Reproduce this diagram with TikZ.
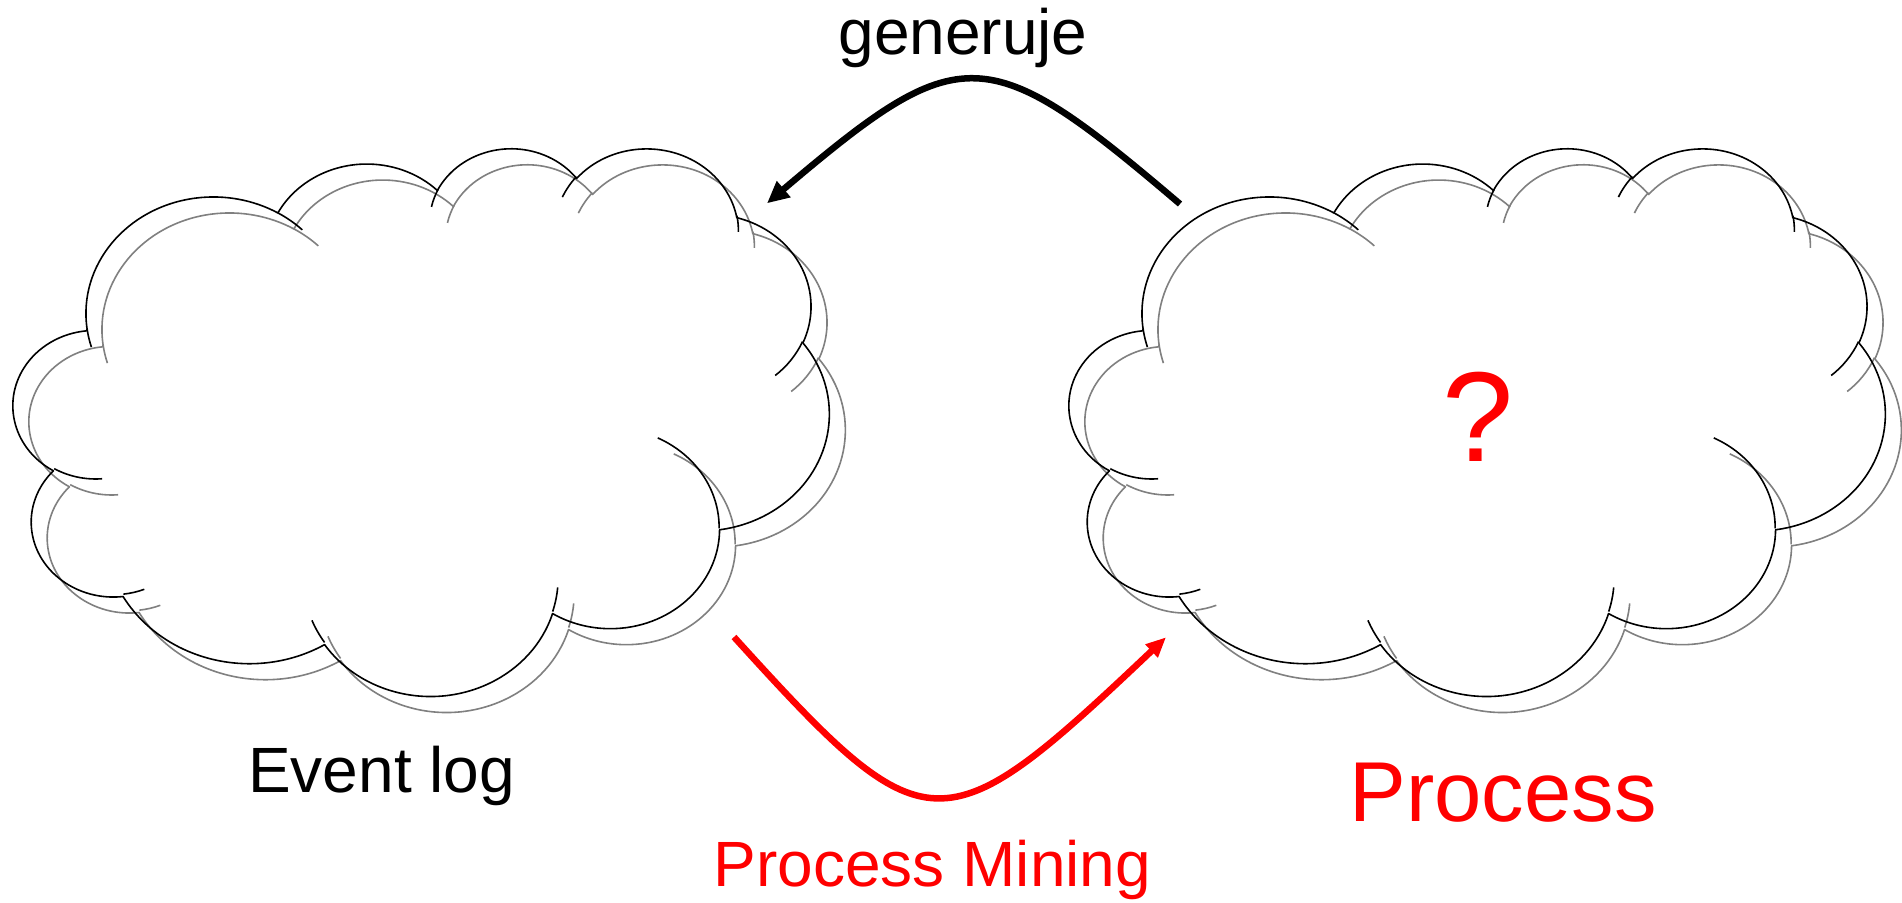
\documentclass[tikz,border=0pt]{standalone}
\usepackage{fontspec}
\setmainfont{Liberation Sans}
\usetikzlibrary{arrows.meta}

\definecolor{shadowgray}{RGB}{128,128,128}

% One lobe of the cloud: an elliptical arc given by its radii and by the
% visual start angle and sweep; stored as a TikZ arc with parametric angles.
\newcommand\defcloudarc[5]{%
  \pgfmathsetmacro\cArcS{atan2((#2)*sin(#4),(#3)*cos(#4))}%
  \pgfmathsetmacro\cArcE{atan2((#2)*sin((#4)+(#5)),(#3)*cos((#4)+(#5)))}%
  \pgfmathsetmacro\cArcD{mod(\cArcE-\cArcS+720,360)}%
  \expandafter\xdef\csname #1\endcsname{arc[start angle=\cArcS, delta angle=\cArcD, x radius=#2pt, y radius=#3pt]}%
}

% outline lobes
\defcloudarc{clA}{6.753}{9.190}{-190.4875}{123.7805}
\defcloudarc{clB}{5.333}{7.267}{-144.1024}{89.9452}
\defcloudarc{clC}{4.365}{5.945}{-145.8079}{99.7230}
\defcloudarc{clD}{4.857}{6.595}{-130.9861}{117.2417}
\defcloudarc{clE}{5.333}{7.273}{-78.7089}{109.0269}
\defcloudarc{clF}{6.775}{9.220}{-46.2673}{130.2690}
\defcloudarc{clG}{5.785}{7.867}{0.6250}{114.0333}
\defcloudarc{clH}{6.752}{9.215}{22.4516}{115.1726}
\defcloudarc{clI}{7.720}{10.543}{66.2426}{75.7110}
\defcloudarc{clJ}{4.360}{5.918}{-274.9421}{146.7356}
\defcloudarc{clK}{4.345}{5.945}{-246.8285}{152.5189}
% inner strokes between lobes
\defcloudarc{inA}{4.345}{5.945}{86.7420}{26.4295}
\defcloudarc{inB}{4.360}{5.918}{73.6105}{11.4475}
\defcloudarc{inC}{6.752}{9.215}{137.6242}{14.0811}
\defcloudarc{inD}{6.752}{9.215}{6.4533}{15.9984}
\defcloudarc{inE}{5.785}{7.867}{-70.2924}{70.9174}
\defcloudarc{inF}{5.333}{7.273}{30.3180}{27.7515}
\defcloudarc{inG}{4.857}{6.595}{-13.7443}{14.8514}
\defcloudarc{inH}{4.857}{6.595}{-149.1815}{18.1954}
\defcloudarc{inI}{4.365}{5.945}{-163.4943}{17.6864}
\defcloudarc{inJ}{6.753}{9.190}{-66.7070}{12.3194}
\defcloudarc{inK}{6.753}{9.190}{157.6544}{11.8582}

\newcommand\cloudW{815.5}
\newcommand\cloudH{547.5}

% cloud in a 43.2 x 43.2 frame, placed with its top-left corner at (#1,#2)
\newcommand\drawcloud[3]{%
  \begin{scope}[shift={(#1,#2)}, x=1pt, y=1pt, xscale=\cloudW/43.2, yscale=-\cloudH/43.2]
    \draw[cloudline, draw=#3] (3.9,14.37) \clA\clB\clC\clD\clE\clF\clG\clH\clI\clJ\clK -- cycle;
    \draw[cloudline, draw=#3]
      (4.693,26.177) \inA (6.928,34.899) \inB (16.478,39.09) \inC
      (28.827,34.751) \inD (34.129,22.954) \inE (41.798,15.354) \inF
      (38.324,5.426) \inG (29.078,3.952) \inH (22.141,4.72) \inI
      (14.0,5.192) \inJ (4.127,15.789) \inK;
  \end{scope}}

\begin{document}
\begin{tikzpicture}[x=1pt, y=-1pt,
  cloudline/.style={line width=1.6pt, line join=round},
  genarrow/.style={line width=6.5pt, -{Triangle[length=22pt,width=20pt]}},
  minearrow/.style={red, line width=6.5pt, -{Triangle[length=20pt,width=17pt]}},
  lbl/.style={inner sep=0pt, anchor=base}]
  \useasboundingbox (0,0) rectangle (1902,902);
  \fill[white] (0,0) rectangle (1902,902);

  % shadows first, outlines on top
  \drawcloud{29.5}{163}{shadowgray}
  \drawcloud{13.5}{147}{black}
  \drawcloud{1085.5}{163}{shadowgray}
  \drawcloud{1069.5}{147}{black}

  % connectors between the two clouds
  \coordinate (genFrom) at (1180,204);
  \coordinate (genTo) at (767,203.3);
  \coordinate (mineFrom) at (734,637);
  \coordinate (mineTo) at (1166,637.3);
  \draw[genarrow] (genFrom) .. controls (986,38.7) and (961,38.7) .. (genTo);
  \draw[minearrow] (mineFrom) .. controls (927,850) and (941.5,850) .. (mineTo);

  % labels
  \node[lbl, font=\fontsize{64}{64}\selectfont] (genLabel) at (963,54.5) {generuje};
  \node[lbl, font=\fontsize{64}{64}\selectfont] (logLabel) at (381.7,792.7) {Event log};
  \node[lbl, red, font=\fontsize{64}{64}\selectfont] (mineLabel) at (932.5,886) {Process Mining};
  \node[lbl, red, font=\fontsize{85}{85}\selectfont] (procLabel) at (1503,821.7) {Process};
  \node[lbl, red, font=\fontsize{128}{128}\selectfont] (qmark) at (1478.3,461) {?};
\end{tikzpicture}
\end{document}
